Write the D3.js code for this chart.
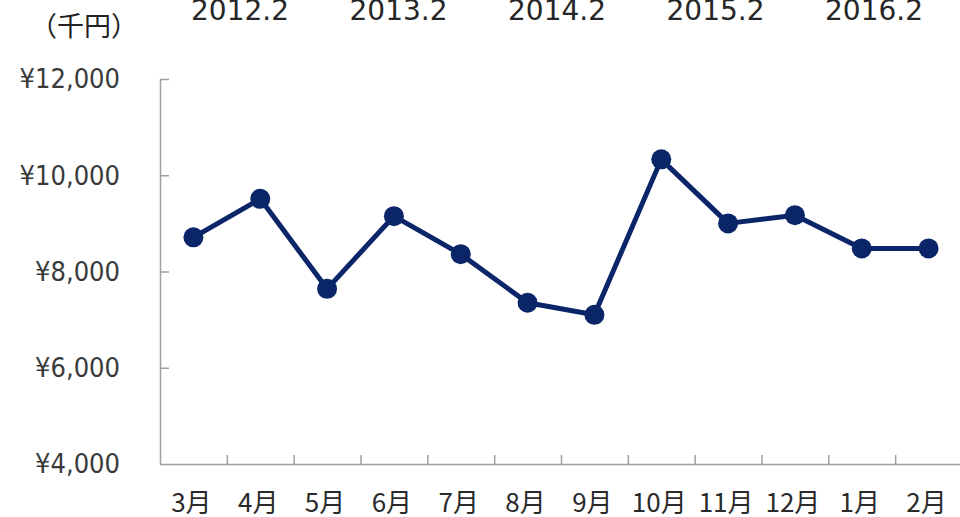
<!DOCTYPE html>
<html><head><meta charset="utf-8">
<script src="https://cdn.jsdelivr.net/npm/d3@7"></script>
<style>html,body{margin:0;padding:0;background:#fff;overflow:hidden}</style>
</head><body>
<svg id="chart" width="960" height="517"></svg>
<script>
const months = ["3月","4月","5月","6月","7月","8月","9月","10月","11月","12月","1月","2月"];
const values = [8710, 9510, 7640, 9150, 8360, 7350, 7100, 10330, 9000, 9170, 8480, 8480];
const yTicks = [4000, 6000, 8000, 10000, 12000];
const yearLabels = ["2012.2","2013.2","2014.2","2015.2","2016.2"];
const unitLabel = "（千円）";

const svg = d3.select("#chart");
const x = d3.scaleBand().domain(months).range([160, 962]);
const y = d3.scaleLinear().domain([4000, 12000]).range([464, 79]);
const navy = "#0b2569";
const axisCol = "#a0a0a0";

svg.append("line").attr("x1",160.5).attr("x2",160.5).attr("y1",y(12000)).attr("y2",y(4000))
  .attr("stroke",axisCol).attr("stroke-width",1.5);
svg.append("line").attr("x1",160).attr("x2",962).attr("y1",y(4000)+0.5).attr("y2",y(4000)+0.5)
  .attr("stroke",axisCol).attr("stroke-width",1.5);
svg.selectAll(".yt").data(yTicks.filter(d=>d>4000)).enter().append("line")
  .attr("x1",160).attr("x2",169).attr("y1",d=>y(d)+0.5).attr("y2",d=>y(d)+0.5)
  .attr("stroke",axisCol).attr("stroke-width",1.5);
svg.selectAll(".yl").data(yTicks).enter().append("text")
  .attr("transform",d=>`translate(120,${y(d)}) scale(0.9,1)`)
  .attr("text-anchor","end").attr("dy","0.35em")
  .attr("font-family","DejaVu Sans, Verdana, sans-serif").attr("font-size",27)
  .attr("fill","#3a3a3a")
  .text(d=>"¥"+d3.format(",")(d));
svg.selectAll(".xt").data(months.slice(1)).enter().append("line")
  .attr("x1",d=>x(d)+0.5).attr("x2",d=>x(d)+0.5).attr("y1",y(4000)).attr("y2",y(4000)-9)
  .attr("stroke",axisCol).attr("stroke-width",1.5);
svg.selectAll(".xl").data(months).enter().append("text")
  .attr("x",d=>x(d)+x.bandwidth()/2-2).attr("y",503).attr("dy","0.35em")
  .attr("text-anchor","middle")
  .attr("font-family","Noto Sans CJK JP, sans-serif").attr("font-size",26)
  .attr("fill","#2a2a2a")
  .text(d=>d);
svg.append("text").attr("x",30).attr("y",27).attr("dy","0.35em")
  .attr("font-family","Noto Sans CJK JP, sans-serif").attr("font-size",27)
  .attr("fill","#222").text(unitLabel);
svg.selectAll(".yr").data(yearLabels).enter().append("text")
  .attr("x",(d,i)=>240 + i*158.5).attr("y",20)
  .attr("text-anchor","middle")
  .attr("font-family","DejaVu Sans, Verdana, sans-serif").attr("font-size",28)
  .attr("fill","#262626")
  .text(d=>d);
const pts = months.map((m,i)=>({m, v: values[i]}));
svg.append("path").datum(pts)
  .attr("d", d3.line().x(d=>x(d.m)+x.bandwidth()/2).y(d=>y(d.v)))
  .attr("fill","none").attr("stroke",navy).attr("stroke-width",5).attr("stroke-linejoin","round");
svg.selectAll(".pt").data(pts).enter().append("circle")
  .attr("cx",d=>x(d.m)+x.bandwidth()/2).attr("cy",d=>y(d.v)).attr("r",10)
  .attr("fill",navy);
</script>
</body></html>
